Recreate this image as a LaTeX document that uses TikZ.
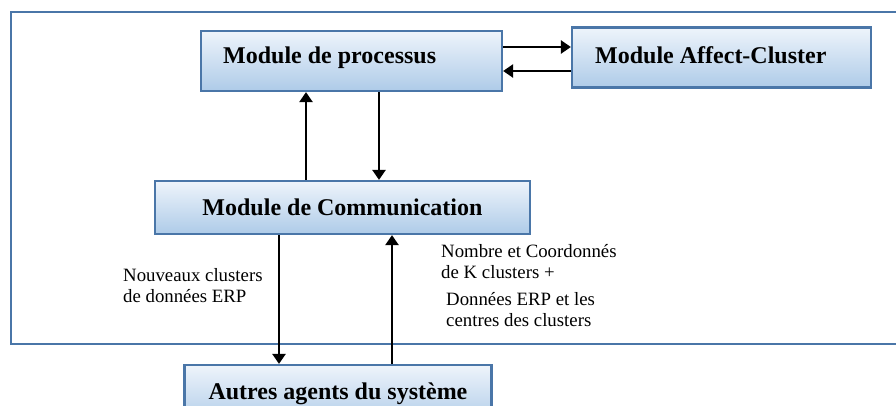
\documentclass[tikz,border=0pt]{standalone}
\usepackage{fontspec}
\setmainfont{Liberation Serif}
\usetikzlibrary{arrows.meta}
\definecolor{frameblue}{HTML}{4A76A8}
\definecolor{boxtop}{HTML}{EEF4FB}
\definecolor{boxbot}{HTML}{AECBE8}
\tikzset{
  modbox/.style={draw=frameblue, line width=2.2pt, top color=boxtop, bottom color=boxbot,
    inner sep=0pt, font=\fontsize{24}{28}\selectfont\bfseries},
  modtext/.style={font=\fontsize{24}{28}\selectfont\bfseries, anchor=west, inner sep=0pt},
  arr/.style={draw=black, line width=2.4pt, -{Triangle[width=13pt,length=10pt]}},
  lbl/.style={font=\fontsize{18.8}{21}\selectfont, align=left, inner sep=0pt, anchor=west}
}
\begin{document}
\begin{tikzpicture}[x=1pt,y=-1pt]
  \useasboundingbox (0,0) rectangle (896,405);
  \clip (0,0) rectangle (896,405);
  % system frame, open on the right
  \draw[frameblue, line width=2.2pt] (11,12) rectangle (910,344);
  % modules
  \node[modbox, minimum width=301pt, minimum height=60pt] (proc) at (351.5,61) {};
  \node[modtext] (proctxt) at (223,58) {Module de processus};
  \node[modbox, minimum width=299pt, minimum height=60pt] (aff) at (721.5,57.5) {};
  \node[modtext] (afftxt) at (595,55) {Module Affect-Cluster};
  \node[modbox, minimum width=375pt, minimum height=53pt] (comm) at (342.5,207.5) {Module de Communication};
  \node[modbox, minimum width=307pt, minimum height=60pt, text depth=7pt] (autres) at (338,395) {Autres agents du système};
  % exchanges between modules
  \draw[arr] (proc.east |- 0,47) -- (aff.west |- 0,47);
  \draw[arr] (aff.west |- 0,71) -- (proc.east |- 0,71);
  \draw[arr] (comm.north -| 306,0) -- (proc.south -| 306,0);
  \draw[arr] (proc.south -| 379,0) -- (comm.north -| 379,0);
  \draw[arr] (comm.south -| 279,0) -- (autres.north -| 279,0);
  \draw[arr] (autres.north -| 392,0) -- (comm.south -| 392,0);
  % message labels
  \node[lbl] (l1) at (123,286) {Nouveaux clusters\\de données ERP};
  \node[lbl] (l2) at (441,262) {Nombre et Coordonnés\\de K clusters +};
  \node[lbl] (l3) at (446,310) {Données ERP et les\\centres des clusters};
\end{tikzpicture}
\end{document}
